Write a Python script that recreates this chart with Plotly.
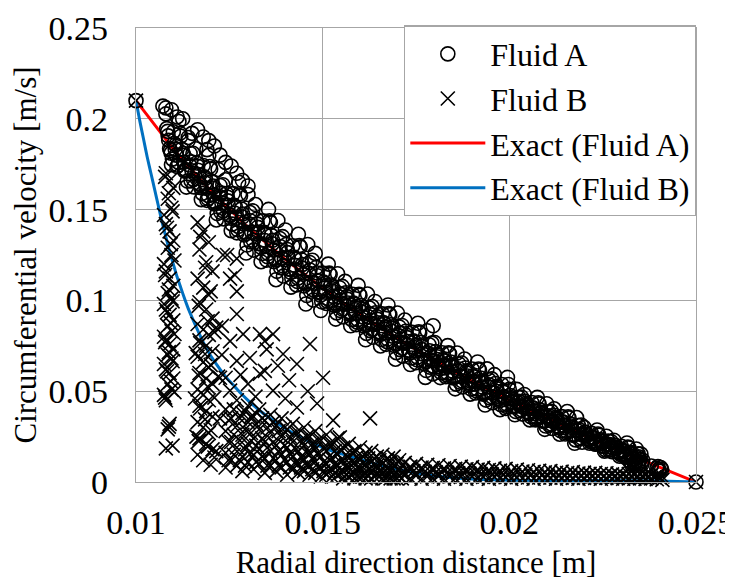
import plotly.graph_objects as go

# ---------------- axis ticks ----------------
x_tick_vals = [0.01, 0.015, 0.02, 0.025]
x_tick_text = ["0.01", "0.015", "0.02", "0.025"]
y_tick_vals = [0, 0.05, 0.1, 0.15, 0.2, 0.25]
y_tick_text = ["0", "0.05", "0.1", "0.15", "0.2", "0.25"]

# ---------------- exact solutions ----------------
exact_a_r = [0.0100, 0.0110, 0.0120, 0.0130, 0.0140, 0.0150, 0.0160, 0.0170,
             0.0180, 0.0190, 0.0200, 0.0210, 0.0220, 0.0230, 0.0240, 0.0250]
exact_a_v = [0.2100, 0.1833, 0.1603, 0.1403, 0.1226, 0.1067, 0.0923, 0.0791,
             0.0669, 0.0556, 0.0450, 0.0351, 0.0256, 0.0167, 0.0082, 0.0000]

exact_b_r = [0.0100, 0.0101, 0.0102, 0.0103, 0.0104, 0.0105, 0.0106, 0.0107,
             0.0108, 0.0109, 0.0110, 0.0111, 0.0112, 0.0113, 0.0114, 0.0116,
             0.0118, 0.0120, 0.0122, 0.0124, 0.0126, 0.0128, 0.0130, 0.0133,
             0.0136, 0.0140, 0.0143, 0.0146, 0.0150, 0.0155, 0.0160, 0.0165,
             0.0170, 0.0175, 0.0180, 0.0190, 0.0200, 0.0220, 0.0240, 0.0250]
exact_b_v = [0.2100, 0.1990, 0.1890, 0.1790, 0.1700, 0.1610, 0.1520, 0.1430,
             0.1350, 0.1270, 0.1200, 0.1130, 0.1070, 0.1010, 0.0955, 0.0860,
             0.0770, 0.0695, 0.0635, 0.0580, 0.0535, 0.0490, 0.0450, 0.0395,
             0.0350, 0.0295, 0.0260, 0.0228, 0.0190, 0.0155, 0.0125, 0.0095,
             0.0070, 0.0050, 0.0035, 0.0016, 0.0010, 0.0008, 0.0005, 0.0000]

# ---------------- Fluid A (circles) ----------------
fluid_a_extra_r = [
    0.01000, 0.02500, 0.01796,
    0.01072, 0.01080, 0.01095, 0.01110, 0.01125, 0.01140, 0.01150, 0.01165, 0.01180,
    0.01190, 0.01195, 0.01210, 0.01225, 0.01240, 0.01255, 0.01270, 0.01285, 0.01300,
    0.02320, 0.02325, 0.02330, 0.02335, 0.02340, 0.02328, 0.02345,
    0.02380, 0.02395, 0.02400, 0.02405, 0.02402, 0.02398, 0.02408,
]
fluid_a_extra_v = [
    0.2100, 0.0000, 0.0860,
    0.2070, 0.2060, 0.2050, 0.2010, 0.2000, 0.1880, 0.1920, 0.1940, 0.1900,
    0.1830, 0.1880, 0.1850, 0.1800, 0.1760, 0.1740, 0.1700, 0.1660, 0.1630,
    0.0120, 0.0110, 0.0125, 0.0105, 0.0115, 0.0095, 0.0100,
    0.0088, 0.0075, 0.0068, 0.0080, 0.0060, 0.0085, 0.0070,
]

fluid_a_main_r = [
    0.01080, 0.01085, 0.01090, 0.01095, 0.01100, 0.01105, 0.01110, 0.01115,
    0.01120, 0.01125, 0.01130, 0.01135, 0.01140, 0.01145, 0.01150, 0.01155,
    0.01160, 0.01165, 0.01170, 0.01175, 0.01180, 0.01185, 0.01190, 0.01195,
    0.01200, 0.01205, 0.01210, 0.01215, 0.01220, 0.01225, 0.01230, 0.01235,
    0.01240, 0.01245, 0.01250, 0.01255, 0.01260, 0.01265, 0.01270, 0.01275,
    0.01280, 0.01285, 0.01290, 0.01295, 0.01300, 0.01305, 0.01310, 0.01315,
    0.01320, 0.01325, 0.01330, 0.01335, 0.01340, 0.01345, 0.01350, 0.01355,
    0.01360, 0.01365, 0.01370, 0.01375, 0.01380, 0.01385, 0.01390, 0.01395,
    0.01400, 0.01405, 0.01410, 0.01415, 0.01420, 0.01425, 0.01430, 0.01435,
    0.01440, 0.01445, 0.01450, 0.01455, 0.01460, 0.01465, 0.01470, 0.01475,
    0.01480, 0.01485, 0.01490, 0.01495, 0.01500, 0.01505, 0.01510, 0.01515,
    0.01520, 0.01525, 0.01530, 0.01535, 0.01540, 0.01545, 0.01550, 0.01555,
    0.01560, 0.01565, 0.01570, 0.01575, 0.01580, 0.01585, 0.01590, 0.01595,
    0.01600, 0.01605, 0.01610, 0.01615, 0.01620, 0.01625, 0.01630, 0.01635,
    0.01640, 0.01645, 0.01650, 0.01655, 0.01660, 0.01665, 0.01670, 0.01675,
    0.01680, 0.01685, 0.01690, 0.01695, 0.01700, 0.01705, 0.01710, 0.01715,
    0.01720, 0.01725, 0.01730, 0.01735, 0.01740, 0.01745, 0.01750, 0.01755,
    0.01760, 0.01765, 0.01770, 0.01775, 0.01780, 0.01785, 0.01790, 0.01795,
    0.01800, 0.01805, 0.01810, 0.01815, 0.01820, 0.01825, 0.01830, 0.01835,
    0.01840, 0.01845, 0.01850, 0.01855, 0.01860, 0.01865, 0.01870, 0.01875,
    0.01880, 0.01885, 0.01890, 0.01895, 0.01900, 0.01905, 0.01910, 0.01915,
    0.01920, 0.01925, 0.01930, 0.01935, 0.01940, 0.01945, 0.01950, 0.01955,
    0.01960, 0.01965, 0.01970, 0.01975, 0.01980, 0.01985, 0.01990, 0.01995,
    0.02000, 0.02005, 0.02010, 0.02015, 0.02020, 0.02025, 0.02030, 0.02035,
    0.02040, 0.02045, 0.02050, 0.02055, 0.02060, 0.02065, 0.02070, 0.02075,
    0.02080, 0.02085, 0.02090, 0.02095, 0.02100, 0.02105, 0.02110, 0.02115,
    0.02120, 0.02125, 0.02130, 0.02135, 0.02140, 0.02145, 0.02150, 0.02155,
    0.02160, 0.02165, 0.02170, 0.02175, 0.02180, 0.02185, 0.02190, 0.02195,
    0.02200, 0.02205, 0.02210, 0.02215, 0.02220, 0.02225, 0.02230, 0.02235,
    0.02240, 0.02245, 0.02250, 0.02255, 0.02260, 0.02265, 0.02270, 0.02275,
    0.02280, 0.02285, 0.02290, 0.02295, 0.02300, 0.02305, 0.02310, 0.02315,
    0.02320, 0.02325, 0.02330, 0.02335, 0.02340, 0.02345, 0.02350, 0.02355,
]
fluid_a_main_v = [
    0.2027, 0.1931, 0.1835, 0.1747, 0.1929, 0.1833, 0.1737, 0.1985,
    0.1904, 0.1800, 0.1712, 0.1624, 0.1897, 0.1809, 0.1713, 0.1625,
    0.1835, 0.1739, 0.1643, 0.1555, 0.1743, 0.1647, 0.1551, 0.1799,
    0.1723, 0.1619, 0.1531, 0.1443, 0.1721, 0.1633, 0.1537, 0.1449,
    0.1664, 0.1568, 0.1472, 0.1384, 0.1588, 0.1480, 0.1372, 0.1651,
    0.1576, 0.1459, 0.1360, 0.1261, 0.1583, 0.1484, 0.1376, 0.1277,
    0.1528, 0.1420, 0.1312, 0.1213, 0.1438, 0.1330, 0.1222, 0.1501,
    0.1429, 0.1312, 0.1213, 0.1114, 0.1440, 0.1341, 0.1233, 0.1134,
    0.1388, 0.1280, 0.1172, 0.1073, 0.1301, 0.1193, 0.1085, 0.1364,
    0.1295, 0.1178, 0.1079, 0.0980, 0.1308, 0.1209, 0.1101, 0.1002,
    0.1259, 0.1151, 0.1043, 0.0944, 0.1151, 0.1067, 0.0983, 0.1200,
    0.1142, 0.1051, 0.0974, 0.0897, 0.1147, 0.1070, 0.0986, 0.0909,
    0.1105, 0.1021, 0.0937, 0.0860, 0.1034, 0.0950, 0.0866, 0.1083,
    0.1028, 0.0937, 0.0860, 0.0783, 0.1035, 0.0958, 0.0874, 0.0797,
    0.0994, 0.0910, 0.0826, 0.0749, 0.0926, 0.0842, 0.0758, 0.0975,
    0.0921, 0.0830, 0.0753, 0.0676, 0.0931, 0.0854, 0.0770, 0.0693,
    0.0892, 0.0808, 0.0724, 0.0647, 0.0825, 0.0741, 0.0657, 0.0874,
    0.0821, 0.0730, 0.0653, 0.0576, 0.0833, 0.0756, 0.0672, 0.0595,
    0.0768, 0.0702, 0.0636, 0.0575, 0.0712, 0.0646, 0.0580, 0.0751,
    0.0706, 0.0634, 0.0573, 0.0513, 0.0710, 0.0650, 0.0583, 0.0523,
    0.0677, 0.0611, 0.0545, 0.0484, 0.0622, 0.0556, 0.0490, 0.0661,
    0.0617, 0.0545, 0.0484, 0.0424, 0.0623, 0.0563, 0.0496, 0.0436,
    0.0591, 0.0525, 0.0459, 0.0398, 0.0537, 0.0471, 0.0405, 0.0576,
    0.0510, 0.0458, 0.0414, 0.0370, 0.0510, 0.0466, 0.0418, 0.0374,
    0.0482, 0.0434, 0.0386, 0.0342, 0.0438, 0.0390, 0.0342, 0.0466,
    0.0430, 0.0378, 0.0334, 0.0290, 0.0431, 0.0387, 0.0339, 0.0295,
    0.0403, 0.0355, 0.0307, 0.0263, 0.0360, 0.0312, 0.0264, 0.0388,
    0.0353, 0.0301, 0.0257, 0.0213, 0.0355, 0.0311, 0.0263, 0.0219,
    0.0301, 0.0271, 0.0241, 0.0213, 0.0268, 0.0238, 0.0208, 0.0286,
    0.0258, 0.0225, 0.0197, 0.0170, 0.0252, 0.0225, 0.0194, 0.0167,
    0.0230, 0.0200, 0.0170, 0.0142, 0.0197, 0.0167, 0.0137, 0.0215,
    0.0188, 0.0155, 0.0127, 0.0100, 0.0182, 0.0155, 0.0124, 0.0097,
]

fluid_a_mid_r = [
    0.010825, 0.010875, 0.010925, 0.010975, 0.011025, 0.011075, 0.011125, 0.011175,
    0.011225, 0.011275, 0.011325, 0.011375, 0.011425, 0.011475, 0.011525, 0.011575,
    0.011625, 0.011675, 0.011725, 0.011775, 0.011825, 0.011875, 0.011925, 0.011975,
    0.012025, 0.012075, 0.012125, 0.012175, 0.012225, 0.012275, 0.012325, 0.012375,
    0.012425, 0.012475, 0.012525, 0.012575, 0.012625, 0.012675, 0.012725, 0.012775,
    0.012825, 0.012875, 0.012925, 0.012975, 0.013025, 0.013075, 0.013125, 0.013175,
    0.013225, 0.013275, 0.013325, 0.013375, 0.013425, 0.013475, 0.013525, 0.013575,
    0.013625, 0.013675, 0.013725, 0.013775, 0.013825, 0.013875, 0.013925, 0.013975,
    0.014025, 0.014075, 0.014125, 0.014175, 0.014225, 0.014275, 0.014325, 0.014375,
    0.014425, 0.014475, 0.014525, 0.014575, 0.014625, 0.014675, 0.014725, 0.014775,
    0.014825, 0.014875, 0.014925, 0.014975, 0.015025, 0.015075, 0.015125, 0.015175,
    0.015225, 0.015275, 0.015325, 0.015375, 0.015425, 0.015475, 0.015525, 0.015575,
    0.015625, 0.015675, 0.015725, 0.015775, 0.015825, 0.015875, 0.015925, 0.015975,
    0.016025, 0.016075, 0.016125, 0.016175, 0.016225, 0.016275, 0.016325, 0.016375,
    0.016425, 0.016475, 0.016525, 0.016575, 0.016625, 0.016675, 0.016725, 0.016775,
    0.016825, 0.016875, 0.016925, 0.016975, 0.017025, 0.017075, 0.017125, 0.017175,
    0.017225, 0.017275, 0.017325, 0.017375, 0.017425, 0.017475, 0.017525, 0.017575,
    0.017625, 0.017675, 0.017725, 0.017775, 0.017825, 0.017875, 0.017925, 0.017975,
    0.018025, 0.018075, 0.018125, 0.018175, 0.018225, 0.018275, 0.018325, 0.018375,
    0.018425, 0.018475, 0.018525, 0.018575, 0.018625, 0.018675, 0.018725, 0.018775,
    0.018825, 0.018875, 0.018925, 0.018975, 0.019025, 0.019075, 0.019125, 0.019175,
    0.019225, 0.019275, 0.019325, 0.019375, 0.019425, 0.019475, 0.019525, 0.019575,
    0.019625, 0.019675, 0.019725, 0.019775, 0.019825, 0.019875, 0.019925, 0.019975,
    0.020025, 0.020075, 0.020125, 0.020175, 0.020225, 0.020275, 0.020325, 0.020375,
    0.020425, 0.020475, 0.020525, 0.020575, 0.020625, 0.020675, 0.020725, 0.020775,
    0.020825, 0.020875, 0.020925, 0.020975, 0.021025, 0.021075, 0.021125, 0.021175,
    0.021225, 0.021275, 0.021325, 0.021375, 0.021425, 0.021475, 0.021525, 0.021575,
    0.021625, 0.021675, 0.021725, 0.021775, 0.021825, 0.021875, 0.021925, 0.021975,
    0.022025, 0.022075, 0.022125, 0.022175, 0.022225, 0.022275, 0.022325, 0.022375,
    0.022425, 0.022475, 0.022525, 0.022575, 0.022625, 0.022675, 0.022725, 0.022775,
    0.022825, 0.022875, 0.022925, 0.022975, 0.023025, 0.023075, 0.023125, 0.023175,
    0.023225, 0.023275, 0.023325, 0.023375, 0.023425, 0.023475, 0.023525, 0.023575,
]
fluid_a_mid_v = [
    0.1946, 0.1882, 0.1826, 0.1778, 0.1864, 0.1800, 0.1744, 0.1920,
    0.1833, 0.1761, 0.1721, 0.1657, 0.1746, 0.1658, 0.1810, 0.1698,
    0.1757, 0.1693, 0.1637, 0.1589, 0.1681, 0.1617, 0.1561, 0.1737,
    0.1654, 0.1582, 0.1542, 0.1478, 0.1573, 0.1485, 0.1637, 0.1525,
    0.1588, 0.1524, 0.1468, 0.1420, 0.1524, 0.1452, 0.1389, 0.1587,
    0.1503, 0.1422, 0.1377, 0.1305, 0.1421, 0.1322, 0.1493, 0.1367,
    0.1447, 0.1375, 0.1312, 0.1258, 0.1375, 0.1303, 0.1240, 0.1438,
    0.1358, 0.1277, 0.1232, 0.1160, 0.1279, 0.1180, 0.1351, 0.1225,
    0.1308, 0.1236, 0.1173, 0.1119, 0.1239, 0.1167, 0.1104, 0.1302,
    0.1225, 0.1144, 0.1099, 0.1027, 0.1149, 0.1050, 0.1221, 0.1095,
    0.1181, 0.1109, 0.1046, 0.0992, 0.1101, 0.1045, 0.0996, 0.1150,
    0.1085, 0.1022, 0.0987, 0.0931, 0.1021, 0.0944, 0.1077, 0.0979,
    0.1042, 0.0986, 0.0937, 0.0895, 0.0985, 0.0929, 0.0880, 0.1034,
    0.0972, 0.0909, 0.0874, 0.0818, 0.0910, 0.0833, 0.0966, 0.0868,
    0.0932, 0.0876, 0.0827, 0.0785, 0.0878, 0.0822, 0.0773, 0.0927,
    0.0866, 0.0803, 0.0768, 0.0712, 0.0806, 0.0729, 0.0862, 0.0764,
    0.0830, 0.0774, 0.0725, 0.0683, 0.0778, 0.0722, 0.0673, 0.0827,
    0.0768, 0.0705, 0.0670, 0.0614, 0.0709, 0.0632, 0.0765, 0.0667,
    0.0718, 0.0674, 0.0635, 0.0602, 0.0673, 0.0628, 0.0590, 0.0711,
    0.0661, 0.0611, 0.0583, 0.0539, 0.0611, 0.0550, 0.0655, 0.0578,
    0.0628, 0.0584, 0.0545, 0.0512, 0.0584, 0.0539, 0.0501, 0.0622,
    0.0573, 0.0523, 0.0495, 0.0451, 0.0524, 0.0463, 0.0568, 0.0491,
    0.0542, 0.0498, 0.0459, 0.0426, 0.0499, 0.0454, 0.0416, 0.0537,
    0.0476, 0.0440, 0.0420, 0.0388, 0.0436, 0.0392, 0.0468, 0.0412,
    0.0444, 0.0412, 0.0384, 0.0360, 0.0408, 0.0376, 0.0348, 0.0436,
    0.0396, 0.0360, 0.0340, 0.0308, 0.0357, 0.0313, 0.0389, 0.0333,
    0.0366, 0.0334, 0.0306, 0.0282, 0.0331, 0.0299, 0.0271, 0.0359,
    0.0320, 0.0284, 0.0264, 0.0232, 0.0282, 0.0238, 0.0314, 0.0258,
    0.0275, 0.0255, 0.0237, 0.0222, 0.0247, 0.0226, 0.0209, 0.0264,
    0.0234, 0.0211, 0.0198, 0.0178, 0.0203, 0.0175, 0.0223, 0.0188,
    0.0204, 0.0184, 0.0166, 0.0151, 0.0176, 0.0155, 0.0138, 0.0193,
    0.0164, 0.0141, 0.0128, 0.0108, 0.0134, 0.0106, 0.0154, 0.0119,
]

fluid_a_core_r = [
    0.01086, 0.01094, 0.01106, 0.01114, 0.01126, 0.01134, 0.01146, 0.01154,
    0.01166, 0.01174, 0.01186, 0.01194, 0.01206, 0.01214, 0.01226, 0.01234,
    0.01246, 0.01254, 0.01266, 0.01274, 0.01286, 0.01294, 0.01306, 0.01314,
    0.01326, 0.01334, 0.01346, 0.01354, 0.01366, 0.01374, 0.01386, 0.01394,
    0.01406, 0.01414, 0.01426, 0.01434, 0.01446, 0.01454, 0.01466, 0.01474,
    0.01486, 0.01494, 0.01506, 0.01514, 0.01526, 0.01534, 0.01546, 0.01554,
    0.01566, 0.01574, 0.01586, 0.01594, 0.01606, 0.01614, 0.01626, 0.01634,
    0.01646, 0.01654, 0.01666, 0.01674, 0.01686, 0.01694, 0.01706, 0.01714,
    0.01726, 0.01734, 0.01746, 0.01754, 0.01766, 0.01774, 0.01786, 0.01794,
    0.01806, 0.01814, 0.01826, 0.01834, 0.01846, 0.01854, 0.01866, 0.01874,
    0.01886, 0.01894, 0.01906, 0.01914, 0.01926, 0.01934, 0.01946, 0.01954,
    0.01966, 0.01974, 0.01986, 0.01994, 0.02006, 0.02014, 0.02026, 0.02034,
    0.02046, 0.02054, 0.02066, 0.02074, 0.02086, 0.02094, 0.02106, 0.02114,
    0.02126, 0.02134, 0.02146, 0.02154, 0.02166, 0.02174, 0.02186, 0.02194,
    0.02206, 0.02214, 0.02226, 0.02234, 0.02246, 0.02254, 0.02266, 0.02274,
    0.02286, 0.02294, 0.02306, 0.02314, 0.02326, 0.02334, 0.02346, 0.02354,
]
fluid_a_core_v = [
    0.1906, 0.1810, 0.1856, 0.1760, 0.1809, 0.1713, 0.1762, 0.1666,
    0.1717, 0.1621, 0.1673, 0.1577, 0.1630, 0.1534, 0.1589, 0.1493,
    0.1548, 0.1452, 0.1515, 0.1407, 0.1476, 0.1368, 0.1439, 0.1331,
    0.1402, 0.1294, 0.1366, 0.1258, 0.1331, 0.1223, 0.1297, 0.1189,
    0.1263, 0.1155, 0.1230, 0.1122, 0.1198, 0.1090, 0.1167, 0.1059,
    0.1136, 0.1028, 0.1094, 0.1010, 0.1064, 0.0980, 0.1035, 0.0951,
    0.1007, 0.0923, 0.0978, 0.0894, 0.0951, 0.0867, 0.0924, 0.0840,
    0.0897, 0.0813, 0.0871, 0.0787, 0.0845, 0.0761, 0.0820, 0.0736,
    0.0795, 0.0711, 0.0771, 0.0687, 0.0747, 0.0663, 0.0723, 0.0639,
    0.0690, 0.0624, 0.0667, 0.0601, 0.0644, 0.0578, 0.0622, 0.0556,
    0.0600, 0.0534, 0.0578, 0.0512, 0.0556, 0.0490, 0.0535, 0.0469,
    0.0514, 0.0448, 0.0493, 0.0427, 0.0464, 0.0416, 0.0444, 0.0396,
    0.0424, 0.0376, 0.0404, 0.0356, 0.0384, 0.0336, 0.0365, 0.0317,
    0.0346, 0.0298, 0.0327, 0.0279, 0.0308, 0.0260, 0.0290, 0.0242,
    0.0262, 0.0232, 0.0244, 0.0214, 0.0226, 0.0196, 0.0208, 0.0178,
    0.0191, 0.0161, 0.0173, 0.0143, 0.0156, 0.0126, 0.0139, 0.0109,
]

# ---------------- Fluid B (crosses) ----------------
fluid_b_col1_r = [
    0.01000, 0.02500,
    0.01080, 0.01090, 0.01100, 0.01085, 0.01095, 0.01075,
    0.01080, 0.01090, 0.01100, 0.01085, 0.01095, 0.01075,
    0.01080, 0.01090, 0.01100, 0.01085, 0.01095, 0.01075,
    0.01080, 0.01090, 0.01100, 0.01085, 0.01095, 0.01075,
    0.01080, 0.01090, 0.01100, 0.01085, 0.01095, 0.01075,
    0.01080, 0.01090, 0.01100, 0.01085, 0.01095, 0.01075,
    0.01080, 0.01090, 0.01085, 0.01080,
    0.01078, 0.01088, 0.01098, 0.01083, 0.01093, 0.01103,
    0.01078, 0.01088, 0.01098, 0.01083, 0.01093, 0.01103,
    0.01078, 0.01088, 0.01098, 0.01083, 0.01093, 0.01103,
    0.01078, 0.01088, 0.01098,
]
fluid_b_col1_v = [
    0.2100, 0.0000,
    0.1700, 0.1660, 0.1620, 0.1560, 0.1510, 0.1470,
    0.1420, 0.1380, 0.1330, 0.1290, 0.1250, 0.1200,
    0.1160, 0.1120, 0.1080, 0.1040, 0.1010, 0.0980,
    0.0950, 0.0920, 0.0890, 0.0860, 0.0830, 0.0800,
    0.0780, 0.0760, 0.0730, 0.0700, 0.0680, 0.0650,
    0.0620, 0.0600, 0.0570, 0.0540, 0.0510, 0.0480,
    0.0450, 0.0320, 0.0290, 0.0185,
    0.1680, 0.1590, 0.1490, 0.1400, 0.1310, 0.1220,
    0.1140, 0.1060, 0.0995, 0.0935, 0.0875, 0.0815,
    0.0770, 0.0715, 0.0665, 0.0610, 0.0555, 0.0495,
    0.0465, 0.0305, 0.0200,
]

fluid_b_col2_r = [
    0.01165, 0.01180, 0.01195, 0.01170, 0.01188, 0.01205,
    0.01165, 0.01180, 0.01195, 0.01170, 0.01188, 0.01205,
    0.01165, 0.01180, 0.01195, 0.01170, 0.01188, 0.01205,
    0.01165, 0.01180, 0.01195, 0.01170, 0.01188, 0.01205,
    0.01165, 0.01180, 0.01195, 0.01170, 0.01188, 0.01205,
    0.01165, 0.01180, 0.01195, 0.01170, 0.01188, 0.01205,
    0.01165, 0.01180,
    0.01215, 0.01160, 0.01220, 0.01158, 0.01225, 0.01162, 0.01215, 0.01200,
    0.01172, 0.01185, 0.01200, 0.01168, 0.01192, 0.01210,
    0.01172, 0.01185, 0.01200, 0.01168, 0.01192, 0.01210,
    0.01172, 0.01185, 0.01200, 0.01168, 0.01192, 0.01210,
]
fluid_b_col2_v = [
    0.1430, 0.1380, 0.1320, 0.1280, 0.1210, 0.1160,
    0.1120, 0.1070, 0.1030, 0.0990, 0.0950, 0.0900,
    0.0870, 0.0840, 0.0810, 0.0780, 0.0750, 0.0720,
    0.0690, 0.0660, 0.0630, 0.0600, 0.0570, 0.0540,
    0.0510, 0.0480, 0.0450, 0.0420, 0.0390, 0.0360,
    0.0330, 0.0300, 0.0270, 0.0240, 0.0210, 0.0180,
    0.0150, 0.0120,
    0.0850, 0.0710, 0.0580, 0.0460, 0.0350, 0.0250, 0.0170, 0.0095,
    0.1350, 0.1180, 0.1050, 0.0970, 0.0885, 0.0825,
    0.0765, 0.0705, 0.0645, 0.0585, 0.0525, 0.0465,
    0.0405, 0.0345, 0.0285, 0.0225, 0.0195, 0.0135,
]

fluid_b_scatter_r = [
    0.01233, 0.01270, 0.01252, 0.01270, 0.01244, 0.01265, 0.01270, 0.01252,
    0.01287, 0.01332, 0.01305, 0.01270, 0.01225, 0.01252, 0.01240, 0.01332,
    0.01367, 0.01345, 0.01394, 0.01466, 0.01431, 0.01501, 0.01345, 0.01367,
    0.01431, 0.01485, 0.01528, 0.01627, 0.01546, 0.01380, 0.01410, 0.01300,
    0.01320, 0.01400, 0.01460, 0.01350, 0.01280, 0.01230, 0.01230,
]
fluid_b_scatter_v = [
    0.1250, 0.1230, 0.1120, 0.1050, 0.1250, 0.1140, 0.0925, 0.0776,
    0.0814, 0.0814, 0.0683, 0.0667, 0.0574, 0.0503, 0.0574, 0.0596,
    0.0814, 0.0776, 0.0705, 0.0760, 0.0650, 0.0574, 0.0612, 0.0503,
    0.0410, 0.0432, 0.0339, 0.0350, 0.0246, 0.0640, 0.0560, 0.0540,
    0.0470, 0.0460, 0.0500, 0.0730, 0.0590, 0.0700, 0.0860,
]

fluid_b_cluster_r = [
    0.01240, 0.01240, 0.01240, 0.01240, 0.01255, 0.01255, 0.01255,
    0.01270, 0.01270, 0.01270, 0.01270, 0.01285, 0.01285, 0.01285, 0.01285,
    0.01300, 0.01300, 0.01300, 0.01300, 0.01315, 0.01315, 0.01315, 0.01315,
    0.01330, 0.01330, 0.01330, 0.01330, 0.01345, 0.01345, 0.01345, 0.01345,
    0.01360, 0.01360, 0.01360, 0.01360, 0.01375, 0.01375, 0.01375, 0.01375,
    0.01390, 0.01390, 0.01390, 0.01390, 0.01405, 0.01405, 0.01405, 0.01405,
    0.01420, 0.01420, 0.01420, 0.01420, 0.01435, 0.01435, 0.01435, 0.01435,
    0.01450, 0.01450, 0.01450, 0.01450, 0.01465, 0.01465, 0.01465, 0.01465,
    0.01480, 0.01480, 0.01480, 0.01480, 0.01495, 0.01495, 0.01495, 0.01495,
    0.01510, 0.01510, 0.01510, 0.01510, 0.01525, 0.01525, 0.01525, 0.01525,
    0.01540, 0.01540, 0.01540, 0.01540, 0.01555, 0.01555, 0.01555, 0.01555,
    0.01570, 0.01570, 0.01570, 0.01570, 0.01585, 0.01585, 0.01585, 0.01585,
    0.01600, 0.01600, 0.01600, 0.01600, 0.01615, 0.01615, 0.01615, 0.01615,
    0.01630, 0.01630, 0.01630, 0.01630, 0.01645, 0.01645, 0.01645,
    0.01660, 0.01660, 0.01660, 0.01660, 0.01675, 0.01675, 0.01675,
    0.01690, 0.01690, 0.01690, 0.01690, 0.01705, 0.01705, 0.01705,
    0.01248, 0.01248, 0.01248, 0.01262, 0.01262, 0.01262,
    0.01278, 0.01278, 0.01278, 0.01292, 0.01292, 0.01292, 0.01292,
    0.01308, 0.01308, 0.01308, 0.01322, 0.01322, 0.01322,
    0.01338, 0.01338, 0.01338, 0.01352, 0.01352, 0.01352,
    0.01368, 0.01368, 0.01368, 0.01382, 0.01382, 0.01382,
    0.01398, 0.01398, 0.01398, 0.01412, 0.01412, 0.01412,
    0.01428, 0.01428, 0.01428, 0.01442, 0.01442, 0.01442,
    0.01458, 0.01458, 0.01458, 0.01472, 0.01472, 0.01472,
    0.01488, 0.01488, 0.01488, 0.01502, 0.01502, 0.01502,
    0.01518, 0.01518, 0.01518, 0.01532, 0.01532, 0.01532,
    0.01548, 0.01548, 0.01548, 0.01562, 0.01562, 0.01562,
    0.01578, 0.01578, 0.01578, 0.01592, 0.01592, 0.01592,
    0.01608, 0.01608, 0.01608, 0.01622, 0.01622, 0.01622,
    0.01638, 0.01638, 0.01638, 0.01652, 0.01652, 0.01652,
    0.01668, 0.01668, 0.01668, 0.01682, 0.01682, 0.01682,
    0.01698, 0.01698, 0.01698, 0.01712, 0.01712, 0.01712,
]
fluid_b_cluster_v = [
    0.040, 0.028, 0.016, 0.008, 0.035, 0.022, 0.012,
    0.045, 0.031, 0.019, 0.009, 0.038, 0.026, 0.014, 0.006,
    0.042, 0.033, 0.021, 0.011, 0.036, 0.024, 0.015, 0.007,
    0.040, 0.029, 0.018, 0.010, 0.034, 0.022, 0.013, 0.005,
    0.037, 0.027, 0.017, 0.009, 0.031, 0.020, 0.012, 0.006,
    0.035, 0.025, 0.015, 0.008, 0.029, 0.019, 0.011, 0.004,
    0.032, 0.022, 0.014, 0.007, 0.027, 0.017, 0.010, 0.005,
    0.030, 0.020, 0.012, 0.006, 0.025, 0.016, 0.009, 0.004,
    0.028, 0.018, 0.011, 0.005, 0.023, 0.014, 0.008, 0.003,
    0.026, 0.017, 0.010, 0.004, 0.021, 0.013, 0.007, 0.003,
    0.024, 0.015, 0.009, 0.004, 0.019, 0.012, 0.006, 0.002,
    0.021, 0.013, 0.008, 0.003, 0.017, 0.011, 0.005, 0.002,
    0.019, 0.012, 0.007, 0.003, 0.016, 0.010, 0.005, 0.002,
    0.017, 0.011, 0.006, 0.002, 0.014, 0.009, 0.004,
    0.015, 0.010, 0.005, 0.002, 0.013, 0.008, 0.003,
    0.014, 0.009, 0.004, 0.002, 0.012, 0.007, 0.003,
    0.034, 0.022, 0.012, 0.040, 0.026, 0.015,
    0.035, 0.023, 0.012, 0.039, 0.029, 0.018, 0.009,
    0.036, 0.027, 0.016, 0.032, 0.020, 0.011,
    0.035, 0.024, 0.014, 0.030, 0.019, 0.009,
    0.033, 0.022, 0.013, 0.028, 0.017, 0.009,
    0.030, 0.020, 0.012, 0.025, 0.016, 0.008,
    0.027, 0.018, 0.010, 0.023, 0.014, 0.008,
    0.025, 0.016, 0.009, 0.021, 0.013, 0.007,
    0.023, 0.015, 0.008, 0.019, 0.011, 0.006,
    0.021, 0.012, 0.006, 0.017, 0.010, 0.005,
    0.018, 0.011, 0.005, 0.015, 0.009, 0.004,
    0.016, 0.009, 0.004, 0.014, 0.008, 0.003,
    0.014, 0.008, 0.003, 0.013, 0.007, 0.003,
    0.013, 0.007, 0.003, 0.012, 0.006, 0.003,
    0.012, 0.006, 0.002, 0.011, 0.006, 0.002,
    0.010, 0.005, 0.002, 0.009, 0.005, 0.002,
]

fluid_b_band_r = [
    0.01720, 0.01720, 0.01735, 0.01735, 0.01750, 0.01750, 0.01765, 0.01765,
    0.01780, 0.01780, 0.01795, 0.01795, 0.01810, 0.01810, 0.01825, 0.01825,
    0.01840, 0.01840, 0.01855, 0.01855, 0.01870, 0.01870, 0.01885, 0.01885,
    0.01900, 0.01900, 0.01915, 0.01915, 0.01930, 0.01930, 0.01945, 0.01945,
    0.01960, 0.01960, 0.01975, 0.01975, 0.01990, 0.01990, 0.02005, 0.02005,
    0.02020, 0.02020, 0.02035, 0.02035, 0.02050, 0.02050, 0.02065, 0.02065,
    0.02080, 0.02080, 0.02095, 0.02095, 0.02110, 0.02110, 0.02125, 0.02125,
    0.02140, 0.02140, 0.02155, 0.02155, 0.02170, 0.02170, 0.02185, 0.02185,
    0.02200, 0.02200, 0.02215, 0.02215, 0.02230, 0.02230, 0.02245, 0.02245,
    0.02260, 0.02260, 0.02275, 0.02275, 0.02290, 0.02290, 0.02305, 0.02305,
    0.02320, 0.02320, 0.02335, 0.02335, 0.02350, 0.02350, 0.02365, 0.02365,
    0.02380, 0.02380, 0.02395, 0.02395, 0.02410, 0.02410,
]
fluid_b_band_v = [
    0.0105, 0.0040, 0.0085, 0.0020, 0.0100, 0.0035, 0.0080, 0.0018,
    0.0095, 0.0030, 0.0078, 0.0020, 0.0092, 0.0032, 0.0075, 0.0018,
    0.0088, 0.0030, 0.0072, 0.0020, 0.0085, 0.0028, 0.0070, 0.0018,
    0.0082, 0.0030, 0.0068, 0.0020, 0.0078, 0.0028, 0.0066, 0.0018,
    0.0075, 0.0028, 0.0063, 0.0020, 0.0072, 0.0026, 0.0060, 0.0018,
    0.0068, 0.0026, 0.0058, 0.0020, 0.0065, 0.0025, 0.0056, 0.0018,
    0.0062, 0.0025, 0.0053, 0.0020, 0.0060, 0.0024, 0.0051, 0.0018,
    0.0057, 0.0024, 0.0049, 0.0020, 0.0054, 0.0023, 0.0047, 0.0018,
    0.0052, 0.0023, 0.0045, 0.0020, 0.0050, 0.0022, 0.0044, 0.0018,
    0.0048, 0.0022, 0.0042, 0.0019, 0.0046, 0.0021, 0.0040, 0.0018,
    0.0044, 0.0020, 0.0039, 0.0018, 0.0042, 0.0020, 0.0038, 0.0017,
    0.0040, 0.0019, 0.0035, 0.0015, 0.0030, 0.0012,
]

fluid_b_band2_r = [
    0.01728, 0.01743, 0.01758, 0.01773, 0.01788, 0.01803, 0.01818, 0.01833,
    0.01848, 0.01863, 0.01878, 0.01893, 0.01908, 0.01923, 0.01938, 0.01953,
    0.01968, 0.01983, 0.01998, 0.02013, 0.02028, 0.02043, 0.02058, 0.02073,
    0.02088, 0.02103, 0.02118, 0.02133, 0.02148, 0.02163, 0.02178, 0.02193,
    0.02208, 0.02223, 0.02238, 0.02253, 0.02268, 0.02283, 0.02298, 0.02313,
    0.02328, 0.02343, 0.02358, 0.02373, 0.02388, 0.02403,
]
fluid_b_band2_v = [
    0.0065, 0.0060, 0.0062, 0.0056, 0.0058, 0.0053, 0.0055, 0.0050,
    0.0052, 0.0048, 0.0050, 0.0046, 0.0047, 0.0044, 0.0045, 0.0042,
    0.0043, 0.0040, 0.0041, 0.0038, 0.0040, 0.0037, 0.0038, 0.0036,
    0.0037, 0.0035, 0.0036, 0.0034, 0.0035, 0.0033, 0.0034, 0.0032,
    0.0033, 0.0031, 0.0032, 0.0030, 0.0031, 0.0029, 0.0030, 0.0028,
    0.0029, 0.0027, 0.0028, 0.0026, 0.0026, 0.0024,
]


def join(*pairs):
    xs, ys = [], []
    for r, v in pairs:
        n = min(len(r), len(v))
        xs += r[:n]
        ys += v[:n]
    return xs, ys


fluid_a_r, fluid_a_v = join((fluid_a_extra_r, fluid_a_extra_v),
                            (fluid_a_main_r, fluid_a_main_v),
                            (fluid_a_mid_r, fluid_a_mid_v),
                            (fluid_a_core_r, fluid_a_core_v))
fluid_b_r, fluid_b_v = join((fluid_b_col1_r, fluid_b_col1_v),
                            (fluid_b_col2_r, fluid_b_col2_v),
                            (fluid_b_scatter_r, fluid_b_scatter_v),
                            (fluid_b_cluster_r, fluid_b_cluster_v),
                            (fluid_b_band_r, fluid_b_band_v),
                            (fluid_b_band2_r, fluid_b_band2_v))

GRID = "#a6a6a6"
FONT = "Liberation Serif, Times New Roman, Tinos, DejaVu Serif, serif"

fig = go.Figure()
fig.add_trace(go.Scatter(
    x=exact_a_r, y=exact_a_v, mode="lines", name="Exact (Fluid A)",
    line=dict(color="#FF0000", width=3), legendrank=3))
fig.add_trace(go.Scatter(
    x=exact_b_r, y=exact_b_v, mode="lines", name="Exact (Fluid B)",
    line=dict(color="#0070C0", width=3, shape="spline", smoothing=0.6), legendrank=4))
fig.add_trace(go.Scatter(
    x=fluid_b_r, y=fluid_b_v, mode="markers", name="Fluid B", cliponaxis=False,
    marker=dict(symbol="x-thin", size=14, color="black",
                line=dict(color="black", width=1.6)), legendrank=2))
fig.add_trace(go.Scatter(
    x=fluid_a_r, y=fluid_a_v, mode="markers", name="Fluid A", cliponaxis=False,
    marker=dict(symbol="circle-open", size=14, color="black",
                line=dict(color="black", width=1.6)), legendrank=1))

# the page body adds an 8 px offset, so the figure is 8 px smaller on each side
fig.update_layout(
    width=725, height=572,
    margin=dict(l=128, r=37, t=20, b=98, autoexpand=False),
    paper_bgcolor="white", plot_bgcolor="white",
    font=dict(family=FONT, color="black", size=31),
    showlegend=True,
    legend=dict(x=0.4786, y=1.006, xanchor="left", yanchor="top",
                bgcolor="white", bordercolor=GRID, borderwidth=1.3,
                font=dict(family=FONT, size=32, color="black"),
                itemwidth=75, tracegroupgap=0),
    xaxis=dict(range=[0.01, 0.025], tickvals=x_tick_vals, ticktext=x_tick_text,
               showgrid=True, gridcolor=GRID, gridwidth=1.3,
               showline=True, linecolor=GRID, linewidth=1.3, mirror=True,
               zeroline=False, ticks="", ticklabelstandoff=10, automargin=False,
               ticklabeloverflow="allow",
               tickfont=dict(family=FONT, size=34, color="black"),
               title=dict(text="Radial direction distance [m]",
                          font=dict(family=FONT, size=31, color="black"))),
    yaxis=dict(range=[0, 0.25], tickvals=y_tick_vals, ticktext=y_tick_text,
               showgrid=True, gridcolor=GRID, gridwidth=1.3,
               showline=True, linecolor=GRID, linewidth=1.3, mirror=True,
               zeroline=False, ticks="", ticklabelstandoff=20, automargin=False,
               ticklabeloverflow="allow",
               tickfont=dict(family=FONT, size=34, color="black"),
               title=dict(text="Circumferential velocity [m/s]",
                          font=dict(family=FONT, size=31, color="black"))),
)

fig.write_html("out.html")
